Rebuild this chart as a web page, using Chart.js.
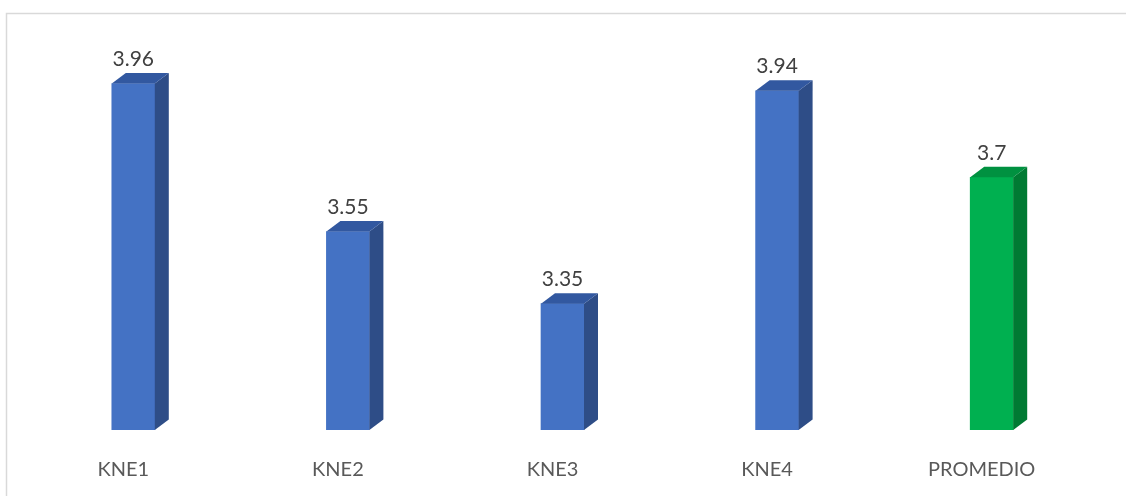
<!DOCTYPE html>
<html>
<head>
<meta charset="utf-8">
<script src="https://cdn.jsdelivr.net/npm/chart.js@4/dist/chart.umd.min.js"></script>
<style>
  body { margin: 0; background: #fff; }
  #wrap { width: 1126px; height: 496px; position: relative; }
</style>
</head>
<body>
<div id="wrap"><canvas id="kneChart" width="1126" height="496"></canvas></div>
<script>
var categories = ['KNE1', 'KNE2', 'KNE3', 'KNE4', 'PROMEDIO'];
var scores = [3.96, 3.55, 3.35, 3.94, 3.7];

var frontColors = ['#4472C4', '#4472C4', '#4472C4', '#4472C4', '#00B050'];
var sideColors  = ['#2E4D87', '#2E4D87', '#2E4D87', '#2E4D87', '#007A33'];
var topColors   = ['#3258A0', '#3258A0', '#3258A0', '#3258A0', '#009140'];

var depthX = 14, depthY = 10.5;

// frame: thin grey line along top and left edge
var framePlugin = {
	id: 'frame',
	beforeDraw: function(chart){
		var ctx = chart.ctx;
		ctx.save();
		ctx.strokeStyle = '#d9d9d9';
		ctx.lineWidth = 1.5;
		ctx.beginPath();
		ctx.moveTo(6.5, 496);
		ctx.lineTo(6.5, 13.5);
		ctx.lineTo(1126, 13.5);
		ctx.stroke();
		ctx.restore();
	}
};

// side + top faces for the pseudo-3d look, value labels, category names
var boxPlugin = {
	id: 'box3d',
	afterDatasetsDraw: function(chart){
		var ctx = chart.ctx;
		var meta = chart.getDatasetMeta(0);
		var xScale = chart.scales.x;
		var bottom = chart.chartArea.bottom;
		ctx.save();
		meta.data.forEach(function(bar, i){
			var x0 = bar.x - bar.width / 2;
			var x1 = bar.x + bar.width / 2;
			var y = bar.y;
			var base = Math.min(bar.base, bottom);

			ctx.fillStyle = sideColors[i];
			ctx.beginPath();
			ctx.moveTo(x1, y);
			ctx.lineTo(x1 + depthX, y - depthY);
			ctx.lineTo(x1 + depthX, base - depthY);
			ctx.lineTo(x1, base);
			ctx.closePath();
			ctx.fill();

			ctx.fillStyle = topColors[i];
			ctx.beginPath();
			ctx.moveTo(x0, y);
			ctx.lineTo(x1, y);
			ctx.lineTo(x1 + depthX, y - depthY);
			ctx.lineTo(x0 + depthX, y - depthY);
			ctx.closePath();
			ctx.fill();

			ctx.textAlign = 'center';
			ctx.textBaseline = 'alphabetic';
			ctx.fillStyle = '#404040';
			ctx.font = '21px Lato';
			ctx.fillText(String(scores[i]), bar.x, y - depthY - 7);

			ctx.fillStyle = '#595959';
			ctx.font = '20px Lato';
			ctx.textBaseline = 'middle';
			ctx.fillText(categories[i], xScale.getPixelForValue(i) - 10, bottom + 39.5);
		});
		ctx.restore();
	}
};

var ctx = document.getElementById('kneChart');
var barGraph = new Chart(ctx, {
	type: 'bar',
	data: {
		labels: categories,
		datasets: [{
			data: scores,
			backgroundColor: frontColors,
			borderWidth: 0,
			barThickness: 43
		}]
	},
	options: {
		responsive: false,
		animation: false,
		layout: { padding: { left: 26, right: 27, top: 33, bottom: 66 } },
		plugins: {
			legend: { display: false },
			tooltip: { enabled: false }
		},
		scales: {
			x: {
				grid: { display: false, drawTicks: false },
				border: { display: false },
				ticks: { display: false }
			},
			y: {
				display: false,
				min: 3.0,
				max: 4.1
			}
		}
	},
	plugins: [framePlugin, boxPlugin]
});
</script>
</body>
</html>
